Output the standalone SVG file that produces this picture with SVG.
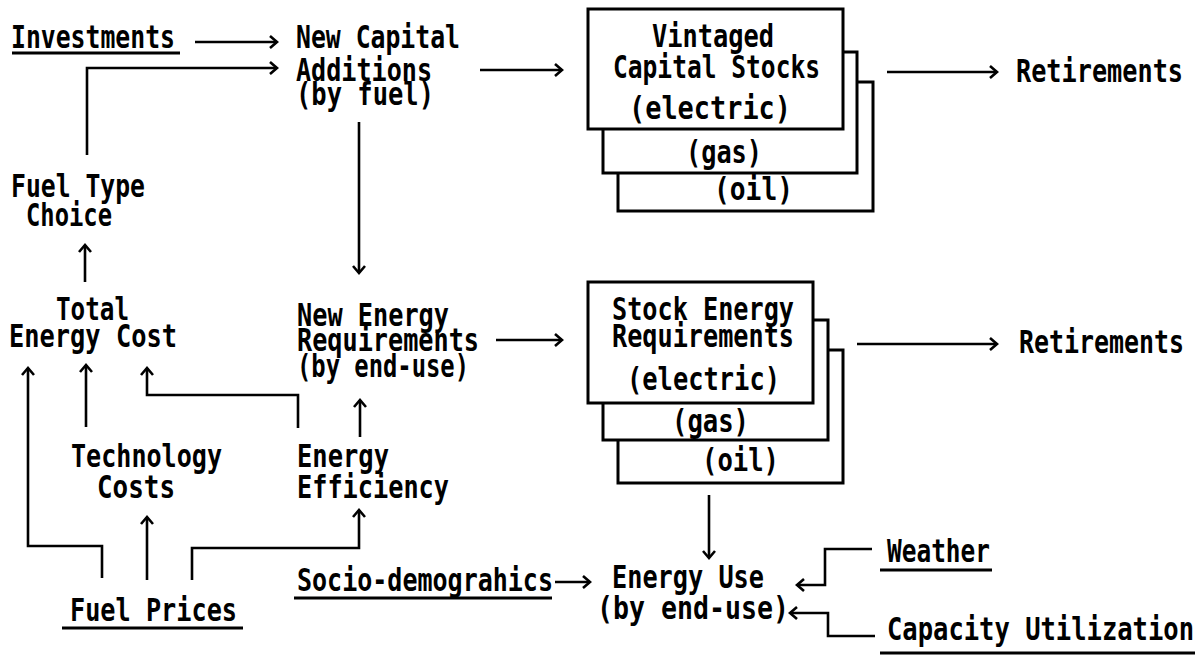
<svg xmlns="http://www.w3.org/2000/svg" width="1198" height="664" viewBox="0 0 1198 664">
<defs>
<style>
text{font-family:"DejaVu Sans Mono","Liberation Mono",monospace;font-size:25px;font-weight:bold;fill:#000}
.ar{fill:none;stroke:#000;stroke-width:2.6;marker-end:url(#ah)}
.bx{fill:#fff;stroke:#000;stroke-width:3}
.ul{stroke:#000;stroke-width:3}
</style>
<marker id="ah" markerUnits="userSpaceOnUse" viewBox="-12 -8 14 16" markerWidth="14" markerHeight="16" refX="0" refY="0" orient="auto" overflow="visible">
<path d="M-7,-6 L0,0 L-7,6" fill="none" stroke="#000" stroke-width="2.6"/>
</marker>
</defs>
<rect width="1198" height="664" fill="#fff"/>

<g id="connectors">
<line class="ar" x1="195" y1="42" x2="277" y2="42"/>
<polyline class="ar" points="87,155 87,68 277,68"/>
<line class="ar" x1="480" y1="70" x2="562" y2="70"/>
<line class="ar" x1="887" y1="72" x2="997" y2="72"/>
<line class="ar" x1="359" y1="122" x2="359" y2="273"/>
<line class="ar" x1="85" y1="282" x2="85" y2="245"/>
<polyline class="ar" points="102,578 102,546 28,546 28,368"/>
<line class="ar" x1="86" y1="427" x2="86" y2="365"/>
<polyline class="ar" points="298,428 298,395 147,395 147,368"/>
<line class="ar" x1="360" y1="437" x2="360" y2="400"/>
<line class="ar" x1="147" y1="580" x2="147" y2="517"/>
<polyline class="ar" points="192,580 192,548 359,548 359,510"/>
<line class="ar" x1="496" y1="340" x2="562" y2="340"/>
<line class="ar" x1="857" y1="344" x2="997" y2="344"/>
<line class="ar" x1="709" y1="495" x2="709" y2="558"/>
<line class="ar" x1="555" y1="582" x2="590" y2="582"/>
<polyline class="ar" points="872,549 825,549 825,585 797,585"/>
<polyline class="ar" points="875,636 828,636 828,613 790,613"/>
</g>

<g id="investments">
<g transform="scale(1,1.25)">
<text x="11" y="38.4" textLength="164" lengthAdjust="spacingAndGlyphs">Investments</text>
</g>
<line class="ul" x1="12" y1="53" x2="180" y2="53"/>
</g>
<g id="new-capital-additions">
<g transform="scale(1,1.25)">
<text x="296" y="38.4" textLength="164" lengthAdjust="spacingAndGlyphs">New Capital</text>
<text x="296" y="64.8" textLength="136" lengthAdjust="spacingAndGlyphs">Additions</text>
<text x="296" y="84" textLength="138" lengthAdjust="spacingAndGlyphs">(by fuel)</text>
</g>
</g>
<g id="vintaged-capital-stocks">
<rect class="bx" x="618" y="82" width="255" height="129"/>
<rect class="bx" x="603" y="52" width="254" height="121"/>
<rect class="bx" x="588" y="9" width="255" height="120"/>
<g transform="scale(1,1.25)">
<text x="652" y="37.6" textLength="122" lengthAdjust="spacingAndGlyphs">Vintaged</text>
<text x="613" y="62.4" textLength="207" lengthAdjust="spacingAndGlyphs">Capital Stocks</text>
<text x="629" y="95.2" textLength="162" lengthAdjust="spacingAndGlyphs">(electric)</text>
<text x="686" y="130.4" textLength="76" lengthAdjust="spacingAndGlyphs">(gas)</text>
<text x="714" y="160" textLength="79" lengthAdjust="spacingAndGlyphs">(oil)</text>
</g>
</g>
<g id="retirements-1">
<g transform="scale(1,1.25)">
<text x="1016" y="65.6" textLength="167" lengthAdjust="spacingAndGlyphs">Retirements</text>
</g>
</g>
<g id="fuel-type-choice">
<g transform="scale(1,1.25)">
<text x="11" y="157.6" textLength="134" lengthAdjust="spacingAndGlyphs">Fuel Type</text>
<text x="26" y="180.8" textLength="86" lengthAdjust="spacingAndGlyphs">Choice</text>
</g>
</g>
<g id="total-energy-cost">
<g transform="scale(1,1.25)">
<text x="56" y="256" textLength="73" lengthAdjust="spacingAndGlyphs">Total</text>
<text x="9" y="277.6" textLength="168" lengthAdjust="spacingAndGlyphs">Energy Cost</text>
</g>
</g>
<g id="new-energy-requirements">
<g transform="scale(1,1.25)">
<text x="297" y="260.8" textLength="152" lengthAdjust="spacingAndGlyphs">New Energy</text>
<text x="297" y="280.8" textLength="182" lengthAdjust="spacingAndGlyphs">Requirements</text>
<text x="297" y="301.6" textLength="172" lengthAdjust="spacingAndGlyphs">(by end-use)</text>
</g>
</g>
<g id="stock-energy-requirements">
<rect class="bx" x="618" y="350" width="225" height="133"/>
<rect class="bx" x="603" y="320" width="225" height="120"/>
<rect class="bx" x="588" y="282" width="225" height="121"/>
<g transform="scale(1,1.25)">
<text x="612" y="256" textLength="182" lengthAdjust="spacingAndGlyphs">Stock Energy</text>
<text x="612" y="277.6" textLength="182" lengthAdjust="spacingAndGlyphs">Requirements</text>
<text x="627" y="312" textLength="153" lengthAdjust="spacingAndGlyphs">(electric)</text>
<text x="672" y="345.6" textLength="77" lengthAdjust="spacingAndGlyphs">(gas)</text>
<text x="702" y="376.8" textLength="77" lengthAdjust="spacingAndGlyphs">(oil)</text>
</g>
</g>
<g id="retirements-2">
<g transform="scale(1,1.25)">
<text x="1019" y="282.4" textLength="165" lengthAdjust="spacingAndGlyphs">Retirements</text>
</g>
</g>
<g id="technology-costs">
<g transform="scale(1,1.25)">
<text x="71" y="373.6" textLength="151" lengthAdjust="spacingAndGlyphs">Technology</text>
<text x="97" y="398.4" textLength="78" lengthAdjust="spacingAndGlyphs">Costs</text>
</g>
</g>
<g id="energy-efficiency">
<g transform="scale(1,1.25)">
<text x="297" y="373.6" textLength="92" lengthAdjust="spacingAndGlyphs">Energy</text>
<text x="297" y="398.4" textLength="152" lengthAdjust="spacingAndGlyphs">Efficiency</text>
</g>
</g>
<g id="fuel-prices">
<g transform="scale(1,1.25)">
<text x="70" y="496.8" textLength="167" lengthAdjust="spacingAndGlyphs">Fuel Prices</text>
</g>
<line class="ul" x1="62" y1="628" x2="243" y2="628"/>
</g>
<g id="socio-demographics">
<g transform="scale(1,1.25)">
<text x="297" y="472.8" textLength="256" lengthAdjust="spacingAndGlyphs">Socio-demograhics</text>
</g>
<line class="ul" x1="294" y1="598" x2="552" y2="598"/>
</g>
<g id="energy-use">
<g transform="scale(1,1.25)">
<text x="612" y="470.4" textLength="152" lengthAdjust="spacingAndGlyphs">Energy Use</text>
<text x="597" y="495.2" textLength="192" lengthAdjust="spacingAndGlyphs">(by end-use)</text>
</g>
</g>
<g id="weather">
<g transform="scale(1,1.25)">
<text x="887" y="449.6" textLength="103" lengthAdjust="spacingAndGlyphs">Weather</text>
</g>
<line class="ul" x1="880" y1="570" x2="992" y2="570"/>
</g>
<g id="capacity-utilization">
<g transform="scale(1,1.25)">
<text x="887" y="512" textLength="307" lengthAdjust="spacingAndGlyphs">Capacity Utilization</text>
</g>
<line class="ul" x1="880" y1="653" x2="1195" y2="653"/>
</g>
</svg>
